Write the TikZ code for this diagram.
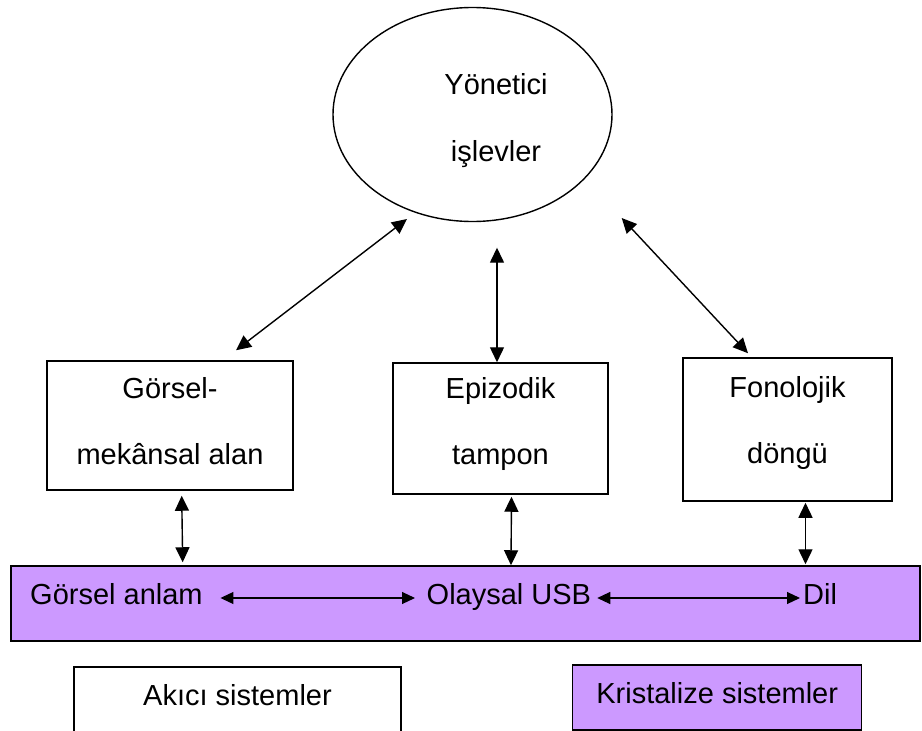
\documentclass[tikz,border=0pt]{standalone}
\usepackage{fontspec}
\setmainfont{Liberation Sans}
\usepackage{xcolor}
\usetikzlibrary{arrows.meta,shapes.geometric,calc}
\definecolor{lilac}{HTML}{CC99FF}

\begin{document}
\begin{tikzpicture}[x=1pt,y=-1pt,
    box/.style={draw,line width=1.5pt,inner sep=0pt,align=center,font=\fontsize{29}{66}\selectfont},
    lbl/.style={inner sep=0pt,font=\fontsize{29}{35}\selectfont,text height=21pt,text depth=6pt},
    link/.style={{Triangle[length=15pt,width=14pt]}-{Triangle[length=15pt,width=14pt]},line width=1.4pt},
    thinlink/.style={{Triangle[length=13pt,width=12pt]}-{Triangle[length=13pt,width=12pt]},line width=1.1pt}]
    \useasboundingbox (0,0) rectangle (922,731);

    % Central executive
    \node[draw,ellipse,line width=1.4pt,minimum width=279pt,minimum height=214pt,inner sep=0pt] (ye) at (472.5,114.5) {};
    \node[align=center,inner sep=0pt,font=\fontsize{29}{67}\selectfont] (yetxt) at (496,121) {Yönetici\\işlevler};

    % Slave systems
    \node[box,minimum width=246pt,minimum height=129pt] (gm) at (170,425.5) {Görsel-\\mekânsal alan\rule[-10pt]{0pt}{0pt}};
    \node[box,minimum width=215pt,minimum height=131pt] (ep) at (500.5,428.5) {Epizodik\\tampon\rule[-15pt]{0pt}{0pt}};
    \node[box,minimum width=209pt,minimum height=143pt] (fo) at (787.5,429.5) {Fonolojik\\döngü\rule[-20pt]{0pt}{0pt}};

    % Long-term bar
    \node[draw,fill=lilac,line width=1.5pt,minimum width=909pt,minimum height=75pt,inner sep=0pt] (ltm) at (465.5,603.5) {};
    \node[lbl,anchor=base west] (ga) at (30,604) {Görsel anlam};
    \node[lbl,anchor=base west] (ol) at (426.5,604) {Olaysal USB};
    \node[lbl,anchor=base west] (dil) at (803,604) {Dil};

    % Legend
    \node[box,minimum width=327pt,minimum height=78pt,text height=21pt,text depth=21.6pt] (fluid) at (237.5,706) {Akıcı sistemler};
    \node[box,fill=lilac,minimum width=289pt,minimum height=65pt,text height=21pt,text depth=10pt] (cryst) at (717.2,697.5) {Kristalize sistemler};

    % Links to the executive
    \draw[link] ($(gm.north)+(66,-10)$) -- ($(ye.center)+(-65.5,104.5)$);
    \draw[link] ($(ye.south)+(24.5,25.5)$) -- ($(ep.north)+(-3.5,0)$);
    \draw[link] ($(ye.center)+(149.2,103.5)$) -- ($(fo.north)+(-39.5,-4)$);

    % Links to the bar
    \draw[link] ($(gm.south)+(11.7,5)$) -- ($(ltm.north)+(-282.8,-3)$);
    \draw[link] ($(ep.south)+(11,2)$) -- ($(ltm.north)+(45.5,0)$);
    \draw[link] ($(fo.south)+(18,1)$) -- ($(ltm.north)+(340,-1)$);

    % Inside the bar
    \draw[thinlink] ($(ga.east)+(17.6,1.5)$) -- ($(ol.west)+(-11.5,1.5)$);
    \draw[thinlink] ($(ol.east)+(6,1.5)$) -- ($(dil.west)+(-3,1.5)$);
\end{tikzpicture}
\end{document}
